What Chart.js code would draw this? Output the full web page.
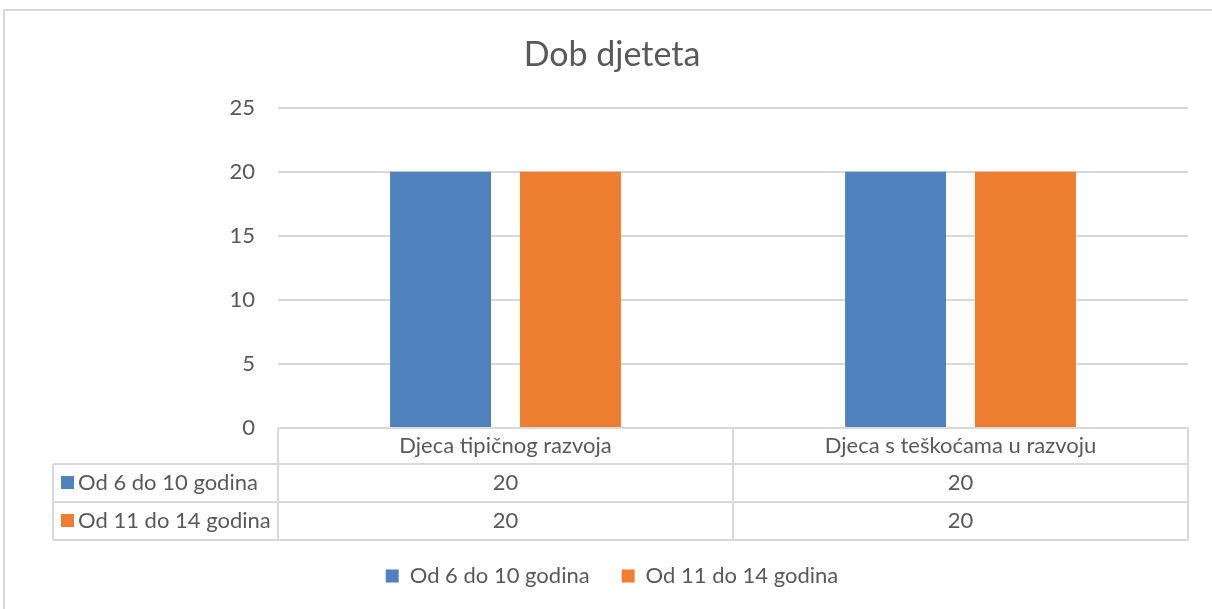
<!DOCTYPE html>
<html>
<head>
<meta charset="utf-8">
<title>Dob djeteta</title>
<script src="https://cdn.jsdelivr.net/npm/chart.js@4/dist/chart.umd.min.js"></script>
<style>
  body { margin: 0; background: #ffffff; }
  #wrap { width: 1212px; height: 609px; position: relative; }
</style>
</head>
<body>
<div id="wrap"><canvas id="ageChart"></canvas></div>
<script>
// Chart data
const categories = ['Djeca tipičnog razvoja', 'Djeca s teškoćama u razvoju'];
const seriesNames = ['Od 6 do 10 godina', 'Od 11 do 14 godina'];
const younger = [20, 20];
const older = [20, 20];
const yTicks = [0, 5, 10, 15, 20, 25];

const textColor = '#595959';
const lineColor = '#d9d9d9';
const colors = ['#4f81bd', '#ed7d31'];
const fontFamily = 'Lato, "Liberation Sans", sans-serif';
const fontSize = 22;

// Outer chart border, like the office chart frame
const framePlugin = {
  id: 'frame',
  beforeDraw(chart) {
    const ctx = chart.ctx;
    ctx.save();
    ctx.strokeStyle = lineColor;
    ctx.lineWidth = 2;
    ctx.strokeRect(4, 10, 1240, 640);
    ctx.restore();
  }
};

// Data table under the plot area
const dataTablePlugin = {
  id: 'dataTable',
  afterDraw(chart) {
    const ctx = chart.ctx;
    const area = chart.chartArea;
    const x = chart.scales.x;
    const left = 53;
    const mid = (x.getPixelForValue(0) + x.getPixelForValue(1)) / 2;
    const cols = [area.left, mid, area.right];
    const rows = [area.bottom, area.bottom + 36, area.bottom + 74, area.bottom + 112];

    ctx.save();
    ctx.strokeStyle = lineColor;
    ctx.lineWidth = 2;
    ctx.beginPath();
    ctx.moveTo(area.left, rows[0]);
    ctx.lineTo(area.right, rows[0]);
    for (let r = 1; r < rows.length; r++) {
      ctx.moveTo(left, rows[r]);
      ctx.lineTo(area.right, rows[r]);
    }
    ctx.moveTo(left, rows[1]);
    ctx.lineTo(left, rows[3]);
    cols.forEach(c => {
      ctx.moveTo(c, rows[0]);
      ctx.lineTo(c, rows[3]);
    });
    ctx.stroke();

    ctx.fillStyle = textColor;
    ctx.font = fontSize + 'px ' + fontFamily;
    ctx.textAlign = 'center';
    ctx.textBaseline = 'middle';
    categories.forEach((cat, i) => {
      const cx = (cols[i] + cols[i + 1]) / 2;
      ctx.fillText(cat, cx, (rows[0] + rows[1]) / 2);
    });

    chart.data.datasets.forEach((ds, r) => {
      const cy = (rows[r + 1] + rows[r + 2]) / 2;
      ctx.fillStyle = colors[r];
      ctx.fillRect(61, cy - 7, 13, 13);
      ctx.fillStyle = textColor;
      ctx.textAlign = 'left';
      ctx.fillText(ds.label, 78, cy);
      ctx.textAlign = 'center';
      ds.data.forEach((v, i) => {
        ctx.fillText(String(v), (cols[i] + cols[i + 1]) / 2, cy);
      });
    });
    ctx.restore();
  }
};

new Chart(document.getElementById('ageChart'), {
  type: 'bar',
  data: {
    labels: categories,
    datasets: [
      { label: seriesNames[0], data: younger, backgroundColor: colors[0], borderWidth: 0,
        categoryPercentage: 0.571, barPercentage: 0.777 },
      { label: seriesNames[1], data: older, backgroundColor: colors[1], borderWidth: 0,
        categoryPercentage: 0.571, barPercentage: 0.777 }
    ]
  },
  options: {
    responsive: true,
    maintainAspectRatio: false,
    animation: false,
    layout: { padding: { left: 36, right: 24, top: 0, bottom: 12 } },
    plugins: {
      title: {
        display: true,
        text: 'Dob djeteta',
        color: textColor,
        font: { family: fontFamily, size: 34, weight: 'normal' },
        padding: { top: 35, bottom: 32 }
      },
      legend: {
        position: 'bottom',
        labels: {
          color: textColor,
          font: { family: fontFamily, size: fontSize },
          boxWidth: 13,
          boxHeight: 13,
          padding: 32
        }
      },
      tooltip: { enabled: false }
    },
    scales: {
      x: {
        ticks: { display: false },
        grid: { display: false, drawTicks: false },
        border: { display: false },
        afterFit(scale) { scale.height = 105; }
      },
      y: {
        min: yTicks[0],
        max: yTicks[yTicks.length - 1],
        afterBuildTicks(scale) { scale.ticks = yTicks.map(v => ({ value: v })); },
        ticks: {
          color: textColor,
          font: { family: fontFamily, size: fontSize },
          padding: 23
        },
        grid: { color: lineColor, lineWidth: 2, drawTicks: false },
        border: { display: false },
        afterFit(scale) { scale.width = 242; }
      }
    }
  },
  plugins: [framePlugin, dataTablePlugin]
});
</script>
</body>
</html>
